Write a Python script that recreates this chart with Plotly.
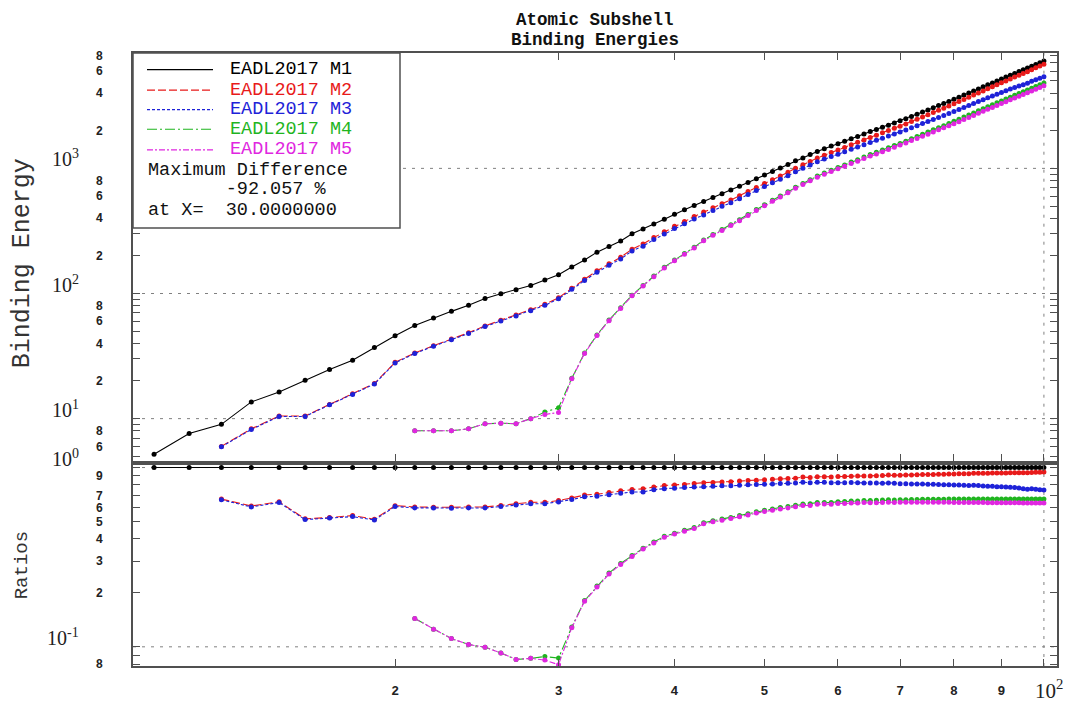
import math
import plotly.graph_objects as go

# ---------------- data (binding energies, eV) ----------------
Z_M1 = list(range(11, 101))
M1 = [5.2, 7.6, 9.0, 13.6, 16.3, 20.3, 24.7, 29.3, 37.1, 46.0,
      55.6, 63.8, 72.0, 80.6, 91.4, 99.5, 107, 116, 128, 141,
      163, 185, 214, 238, 263, 300, 327, 359, 392, 430,
      467, 506, 544, 586, 628, 672, 719, 772, 827, 885,
      946, 1006, 1072, 1149, 1211, 1293, 1362, 1436, 1511, 1575,
      1650, 1723, 1800, 1881, 1968, 2047, 2128, 2207, 2307, 2398,
      2491, 2601, 2708, 2820, 2932, 3049, 3174, 3296, 3425, 3562,
      3704, 3851, 3999, 4149, 4317, 4482, 4652, 4822, 5002, 5182,
      5367, 5548, 5739, 5933, 6133, 6337, 6545, 6759, 6978, 7202]

Z_M23 = list(range(13, 101))
M2 = [6.0, 8.3, 10.5, 10.5, 13.0, 15.8, 19.1, 28.2,
      33.5, 38.3, 43.2, 48.6, 55.1, 61.2, 67.2, 74.2, 81.9, 92.4,
      110.4, 130.0, 152, 173, 195, 226,
      249, 280, 311, 344, 376, 412, 448, 484, 521, 560,
      604, 653, 703, 757, 813, 871, 931, 1002, 1071, 1137,
      1209, 1274, 1337, 1403, 1471, 1541, 1614, 1688, 1768, 1842,
      1923, 2006, 2090, 2173, 2264, 2365, 2469, 2575, 2682, 2792,
      2909, 3027, 3148, 3279, 3416, 3554, 3696, 3854, 4008, 4159,
      4327, 4490, 4656, 4830, 5001, 5182, 5366, 5541, 5730, 5920,
      6147, 6359, 6574, 6793]
M3 = [5.95, 8.2, 10.4, 10.4, 12.9, 15.6, 18.9, 27.9,
      33.1, 37.9, 42.7, 48.0, 54.4, 60.3, 66.1, 72.9, 80.4, 90.6,
      108.0, 127.0, 148, 168, 189, 219,
      239, 270, 299, 330, 361, 394, 425, 461, 497, 532,
      573, 618, 665, 715, 766, 820, 875, 941, 1003, 1063,
      1128, 1187, 1242, 1297, 1357, 1420, 1481, 1544, 1611, 1676,
      1741, 1812, 1885, 1950, 2024, 2108, 2194, 2281, 2367, 2457,
      2551, 2645, 2743, 2847, 2957, 3066, 3177, 3302, 3426, 3538,
      3663, 3792, 3909, 4046, 4174, 4303, 4435, 4557, 4667, 4797,
      4977, 5109, 5252, 5397]

Z_M45 = list(range(21, 101))
M4 = [8.0, 8.0, 8.0, 8.3, 9.1, 9.2, 9.1, 10.0, 11.3, 12.2,
      21.0, 33.5, 46.7, 61.4, 76.8, 97.0, 116, 138, 162, 185,
      209, 234, 268, 296, 324, 354, 388, 427, 469, 512,
      556, 602, 650, 708, 758, 812, 868, 918, 964, 1015,
      1066, 1122, 1172, 1232, 1290, 1345, 1401, 1460, 1522, 1584,
      1649, 1724, 1798, 1875, 1950, 2031, 2114, 2195, 2284, 2376,
      2471, 2569, 2671, 2772, 2884, 2994, 3108, 3221, 3341, 3462,
      3585, 3706, 3834, 3957, 4091, 4227, 4366, 4508, 4654, 4804]
M5 = [8.0, 8.0, 8.0, 8.3, 9.1, 9.2, 9.1, 10.0, 10.8, 11.2,
      20.8, 33.2, 46.2, 60.6, 75.8, 95.8, 115, 136, 160, 183,
      206, 231, 264, 292, 319, 349, 382, 420, 461, 503,
      546, 591, 638, 694, 743, 795, 850, 898, 943, 992,
      1040, 1094, 1140, 1199, 1253, 1303, 1358, 1415, 1474, 1535,
      1597, 1667, 1735, 1806, 1877, 1952, 2031, 2109, 2190, 2273,
      2363, 2456, 2551, 2645, 2752, 2857, 2964, 3072, 3186, 3296,
      3413, 3527, 3648, 3769, 3895, 4023, 4154, 4288, 4425, 4566]

NAMES = ["EADL2017 M1", "EADL2017 M2", "EADL2017 M3", "EADL2017 M4", "EADL2017 M5"]
SER_Z = [Z_M1, Z_M23, Z_M23, Z_M45, Z_M45]
SER_V = [M1, M2, M3, M4, M5]
COLORS = ["#000000", "#e81a1a", "#1e22d8", "#1fb51f", "#e026e0"]
DASHES = ["solid", "8px,3px", "3px,2px", "10px,3px,2px,3px", "6px,2px,2px,2px"]

MAX_DIFF_TEXT = ["Maximum Difference", "\u00a0" * 7 + "-92.057 %", "at X=\u00a0\u00a030.0000000"]

X_TICKS = [20, 30, 40, 50, 60, 70, 80, 90]
X_TICKTEXT = ["2", "3", "4", "5", "6", "7", "8", "9"]
X_MINOR = [100]
TOP_MAJOR = [10, 100, 1000]
BOT_MAJOR = [1, 0.1]
GRID_X = [100]
BOT_LABELED = [0.08, 0.2, 0.3, 0.4, 0.5, 0.6, 0.7, 0.9]
BOT_LABELS = ["8", "2", "3", "4", "5", "6", "7", "9"]
BOT_MINOR = [0.09, 0.1, 0.8, 1.0]

# ---------------- geometry ----------------
# The page body keeps its default 8px margin, so the figure is drawn 8px in from the
# top-left corner; it is sized so that the whole page is exactly 1076 x 719.
OFF = 8
FIG_W, FIG_H = 1076 - OFF, 719 - 2 * OFF
L, R, T, B = 133, 1057, 53, 680          # plot area in window pixels
W, H = R - L, B - T


def px(x):
    return (x - L) / W


def py(y):
    return (B - y) / H


fig = go.Figure()
m1_of = dict(zip(Z_M1, M1))
for name, zs, vs, col, dash in zip(NAMES, SER_Z, SER_V, COLORS, DASHES):
    fig.add_trace(go.Scatter(x=zs, y=vs, mode="lines+markers", name=name,
                             line=dict(color=col, width=1.1, dash=dash),
                             marker=dict(color=col, size=5),
                             xaxis="x", yaxis="y", showlegend=False))
for name, zs, vs, col, dash in zip(NAMES, SER_Z, SER_V, COLORS, DASHES):
    ratios = [v / m1_of[z] for z, v in zip(zs, vs)]
    fig.add_trace(go.Scatter(x=zs, y=ratios, mode="lines+markers", name=name,
                             line=dict(color=col, width=1.1, dash=dash),
                             marker=dict(color=col, size=5),
                             xaxis="x2", yaxis="y2", showlegend=False))

# y tick values / labels (labeled as major ticks, the rest as minor ticks)
top_vals, top_text, top_minor = [], [], []
for dec in [1, 10, 100, 1000]:
    for m in range(1, 10):
        v = m * dec
        if 4.6 <= v <= 8400:
            if m in (2, 4, 6, 8):
                top_vals.append(v)
                top_text.append(str(m))
            else:
                top_minor.append(v)

minor_style = dict(ticks="inside", ticklen=7, tickcolor="#505050", tickwidth=1, showgrid=False)
axis_common = dict(type="log", showgrid=False, zeroline=False, showline=True,
                   linecolor="#505050", linewidth=1.5, mirror="allticks",
                   ticks="inside", ticklen=7, tickcolor="#505050", tickwidth=1)
tickfont = dict(family="Liberation Mono", size=12, color="#222222", weight="bold")

XR = [math.log10(10.44), math.log10(103.3)]
fig.update_layout(
    width=FIG_W, height=FIG_H, autosize=False,
    margin=dict(l=L - OFF, r=FIG_W - (R - OFF), t=T - OFF, b=FIG_H - (B - OFF)),
    paper_bgcolor="white", plot_bgcolor="white",
    xaxis=dict(axis_common, range=XR, anchor="y", domain=[0, 1],
               tickvals=X_TICKS, showticklabels=False,
               minor=dict(minor_style, tickvals=X_MINOR)),
    yaxis=dict(axis_common, range=[0.664, 3.922], anchor="x", domain=[py(470), 1],
               tickvals=top_vals, ticktext=top_text, tickfont=tickfont, ticklabelstandoff=26,
               minor=dict(minor_style, tickvals=top_minor)),
    xaxis2=dict(axis_common, range=XR, anchor="y2", domain=[0, 1], matches="x",
                tickvals=X_TICKS, ticktext=X_TICKTEXT, tickfont=dict(tickfont, size=13),
                ticklabelstandoff=12, minor=dict(minor_style, tickvals=X_MINOR)),
    yaxis2=dict(axis_common, range=[-1.107, 0.0164], anchor="x2", domain=[0, py(474)],
                tickvals=BOT_LABELED, ticktext=BOT_LABELS, tickfont=tickfont, ticklabelstandoff=26,
                minor=dict(minor_style, tickvals=BOT_MINOR)),
)

shapes = []
grid_line = dict(color="#808080", width=1, dash="3px,6px")
for v in TOP_MAJOR:
    shapes.append(dict(type="line", xref="x domain", x0=0, x1=1, yref="y", y0=v, y1=v,
                       line=grid_line, layer="below"))
for v in BOT_MAJOR:
    shapes.append(dict(type="line", xref="x2 domain", x0=0, x1=1, yref="y2", y0=v, y1=v,
                       line=grid_line, layer="below"))
for v in GRID_X:
    shapes.append(dict(type="line", xref="x", x0=v, x1=v, yref="y domain", y0=0, y1=1,
                       line=grid_line, layer="below"))
    shapes.append(dict(type="line", xref="x2", x0=v, x1=v, yref="y2 domain", y0=0, y1=1,
                       line=grid_line, layer="below"))

# legend box
shapes.append(dict(type="rect", xref="paper", yref="paper", x0=px(133), x1=px(400),
                   y0=py(232), y1=py(53), fillcolor="white",
                   line=dict(color="#505050", width=1.5), layer="above"))
row_y = [70, 91, 111, 131, 152]
annotations = []
lfont = "Liberation Mono"
LSIZE = 18.5
for yy, name, col, dash in zip(row_y, NAMES, COLORS, DASHES):
    shapes.append(dict(type="line", xref="paper", yref="paper", x0=px(147), x1=px(213),
                       y0=py(yy), y1=py(yy), line=dict(color=col, width=1.2, dash=dash),
                       layer="above"))
    annotations.append(dict(text=name, xref="paper", yref="paper", x=px(228), y=py(yy),
                            xanchor="left", yanchor="middle", showarrow=False,
                            font=dict(family=lfont, size=LSIZE, color=col)))
for yy, txt in zip([173, 193, 214], MAX_DIFF_TEXT):
    annotations.append(dict(text=txt, xref="paper", yref="paper", x=px(146), y=py(yy),
                            xanchor="left", yanchor="middle", showarrow=False,
                            font=dict(family=lfont, size=LSIZE, color="#111111")))

# major tick labels
mfont = dict(family="Liberation Serif", size=20, color="#222222")


def exp_label(v):
    e = int(round(math.log10(v)))
    return "10<sup>%d</sup>" % e


for v in TOP_MAJOR:
    annotations.append(dict(text=exp_label(v), xref="paper", yref="y", x=px(81),
                            y=math.log10(v), xanchor="right", yanchor="bottom", yshift=-4,
                            showarrow=False, font=mfont))
for v in BOT_MAJOR:
    annotations.append(dict(text=exp_label(v), xref="paper", yref="y2", x=px(81),
                            y=math.log10(v), xanchor="right", yanchor="bottom", yshift=-4,
                            showarrow=False, font=mfont))
annotations.append(dict(text=exp_label(X_MINOR[-1]), xref="x2", yref="paper",
                        x=math.log10(X_MINOR[-1]), y=py(704), xanchor="center", yanchor="middle",
                        xshift=5, showarrow=False, font=dict(family="Liberation Serif", size=21,
                                                               color="#222222")))

# titles
tfont = dict(family=lfont, size=17.5, color="#111111", weight="bold")
annotations.append(dict(text="Atomic Subshell", xref="paper", yref="paper", x=0.5, y=py(19),
                        xanchor="center", yanchor="middle", showarrow=False, font=tfont))
annotations.append(dict(text="Binding Energies", xref="paper", yref="paper", x=0.5, y=py(40),
                        xanchor="center", yanchor="middle", showarrow=False, font=tfont))
annotations.append(dict(text="Binding Energy", xref="paper", yref="paper", x=px(22), y=py(268),
                        xanchor="center", yanchor="middle", textangle=-90, showarrow=False,
                        font=dict(family="Liberation Mono", size=25, color="#333333")))
annotations.append(dict(text="Ratios", xref="paper", yref="paper", x=px(22), y=py(577),
                        xanchor="center", yanchor="middle", textangle=-90, showarrow=False,
                        font=dict(family="Liberation Mono", size=19, color="#333333")))

fig.update_layout(shapes=shapes, annotations=annotations)
fig.write_html("out.html", config={"displayModeBar": False})
